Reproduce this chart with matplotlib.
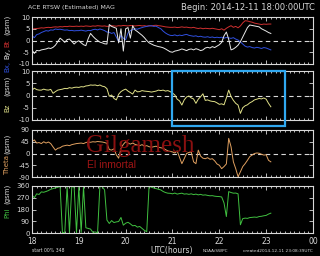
import numpy as np
import matplotlib
matplotlib.use("Agg")
import matplotlib.pyplot as plt
from matplotlib.patches import Rectangle

# time grid, hours UTC (every 3 min)
hours = np.round(np.arange(18.0, 23.101, 0.05), 2)

bt = [4.9, 5.0, 5.1, 5.2, 5.4, 5.3, 5.5, 5.6, 5.5, 5.7, 5.8, 5.7, 5.9, 5.8, 6.0, 5.9, 6.1, 6.0, 6.0, 6.1,
      6.0, 6.1, 6.0, 6.2, 6.1, 6.0, 6.2, 6.1, 6.3, 6.2, 6.1, 6.2, 6.0, 6.1, 6.3, 6.2, 6.1, 6.3, 6.2, 6.4,
      6.3, 6.2, 6.4, 6.3, 6.2, 6.3, 6.4, 6.2, 6.3, 6.1, 6.3, 6.2, 6.4, 6.5, 6.3, 6.2, 6.0, 5.8, 5.7, 5.6,
      5.6, 5.7, 5.5, 5.6, 5.8, 5.6, 5.7, 5.5, 5.4, 5.6, 5.3, 5.1, 5.3, 5.0, 5.2, 5.1, 5.0, 5.2, 5.0, 4.8,
      4.6, 5.0, 4.4, 5.2, 5.8, 6.3, 5.6, 6.0, 5.4, 6.2, 7.5, 8.4, 8.3, 8.0, 7.8, 7.4, 7.2, 7.0, 6.8, 7.0,
      6.9, 7.0, 7.0]

bx = [2.0, 1.2, 2.5, 2.8, 3.4, 3.8, 4.2, 4.0, 4.5, 4.4, 4.9, 4.7, 4.8, 4.6, 4.4, 4.5, 4.2, 4.3, 4.1, 4.2,
      4.2, 4.4, 4.2, 4.0, 4.3, 4.2, 4.6, 4.8, 4.5, 4.9, 4.6, 4.2, 3.6, 3.5, 3.0, 3.4, 1.5, -0.5, 2.2, 1.0,
      0.3, 3.2, 4.2, 4.6, 5.0, 4.8, 5.2, 5.5, 5.8, 6.0, 6.2, 6.3, 6.0, 6.1, 5.5, 5.0, 4.0, 3.2, 2.6, 2.2,
      2.1, 2.4, 2.0, 2.3, 2.1, 2.4, 2.6, 2.2, 2.0, 1.8, 2.0, 1.6, 1.8, 1.5, 1.4, 1.6, 1.3, 1.5, 1.2, 1.4,
      1.2, 1.4, 1.0, 1.3, 1.1, 0.9, 1.2, 0.6, 0.2, -0.6, -1.5, -2.4, -2.8, -2.6, -3.0, -3.2, -2.9, -3.1, -3.4, -3.0,
      -3.2, -3.6, -4.0]

by = [-4.0, -5.5, -4.2, -4.4, -4.0, -3.8, -3.6, -3.2, -3.4, -2.9, -2.0, -0.5, 1.0, 0.2, -0.8, 0.4, 0.6, -0.4, -1.5, -0.6,
      -0.1, -1.0, -1.8, -2.2, 0.8, 3.0, 1.8, 0.8, 0.0, -0.7, -1.0, -1.4, -1.5, 6.8, 6.0, 5.6, 5.2, -1.0, 5.0, -4.5,
      5.0, 5.5, 1.0, 6.3, 4.5, 3.8, 3.0, 2.2, 1.2, 0.0, -1.0, -1.5, -2.0, -2.3, -2.6, -2.8, -3.1, -3.6, -4.2, -4.8,
      -5.0, -4.5, -4.3, -4.0, -3.6, -3.9, -4.3, -3.8, -3.6, -4.0, -3.5, -3.8, -4.3, -4.0, -3.2, -2.9, -3.2, -2.6, -3.0, -2.4,
      -1.8, -0.8, 2.0, 3.6, 0.5, -4.0, -3.6, -2.9, -2.0, -0.5, 1.5, 3.5, 5.5, 6.6, 6.4, 6.2, 6.0, 5.8, 5.0, 4.5,
      4.0, 3.4, 3.0]

bz = [2.2, 3.0, 2.4, 2.2, 2.2, 2.6, 2.3, 2.2, 2.5, 0.9, 1.6, 2.2, 2.4, 2.6, 2.9, 2.8, 3.2, 3.0, 3.3, 3.4,
      3.3, 3.6, 3.5, 3.9, 4.0, 4.3, 4.2, 4.3, 4.0, 4.3, 3.8, 3.6, 2.8, -0.3, 0.2, -1.2, -1.8, 0.5, 1.6, 2.2,
      2.6, 1.8, 1.2, 0.6, 2.2, 1.5, 1.6, 2.0, 1.8, 1.7, 1.6, 1.4, 1.6, 1.8, 2.2, 2.0, 2.2, 1.8, 2.0, 1.6,
      1.0, 0.2, -1.5, -2.2, -3.9, -1.8, -0.6, -0.2, -1.0, -1.4, -3.2, -1.5, -0.5, 0.7, -2.0, -1.8, -2.2, -2.4, -2.5, -3.0,
      -3.6, -3.4, -3.8, -1.0, 2.2, -0.4, -2.0, -3.2, -3.9, -7.3, -5.0, -4.2, -3.8, -3.0, -2.5, -1.8, -1.5, -1.2, -1.4, -1.0,
      -1.5, -3.2, -4.6]

theta = [45, 52, 40, 42, 38, 45, 40, 44, 38, 25, 13, 20, 22, 28, 30, 32, 30, 34, 36, 38,
         39, 40, 38, 42, 44, 43, 45, 44, 46, 45, 44, 42, 39, 15, 13, 18, -5, -18, 20, 35,
         45, 40, 36, 40, 35, 32, 30, 34, 28, 30, 26, 24, 26, 28, 24, 22, 20, 15, 10, 8,
         6, 2, 10, -15, -39, -20, 0, 4, 6, -32, -39, 13, -10, -18, -20, -16, -22, -20, -28, -40,
         -45, -58, -50, -40, 58, 26, -32, -58, -89, -70, -50, -39, -26, -12, -6, 0, 2, 1, -3, -6,
         -5, -26, -32]

phi = [290, 270, 300, 295, 315, 312, 318, 325, 335, 340, 345, 350, 358, 2, 5, 355, 3, 357, 350, 2,
       358, 4, 355, 40, 35, 30, 5, 8, 2, 360, 355, 330, 99, 73, 95, 80, 85, 88, 119, 60,
       75, 82, 70, 55, 58, 45, 50, 35, 20, 10, 360, 350, 345, 340, 335, 330, 318, 310, 305, 304,
       300, 306, 298, 302, 305, 298, 300, 296, 300, 294, 298, 292, 296, 290, 292, 288, 285, 286, 282, 280,
       279, 276, 230, 126, 317, 310, 305, 306, 300, 63, 110, 114, 112, 118, 120, 122, 120, 126, 128, 132,
       135, 145, 152]

hour_ticks = [18, 19, 20, 21, 22, 23, 24]
hour_labels = ['18', '19', '20', '21', '22', '23', '00']

FG = '#d8d8d8'
C_BX, C_BY, C_BT = '#3050e0', '#e8e8e8', '#d03030'
C_BZ, C_TH, C_PHI = '#e0e088', '#e0a060', '#40c040'

fig = plt.figure(figsize=(3.2, 2.56), dpi=100, facecolor='black')

def px_axes(top, bottom):
    # pixel rows -> figure axes
    return fig.add_axes([32 / 320, 1 - bottom / 256, 281 / 320, (bottom - top) / 256])

def style(ax, lim, ticks, zero_line=True):
    ax.set_facecolor('black')
    ax.set_xlim(18, 24)
    ax.set_ylim(lim)
    ax.set_yticks(ticks)
    ax.set_yticklabels([str(t) for t in ticks])
    ax.set_xticks(hour_ticks)
    ax.set_xticks(np.arange(18, 24.01, 0.1), minor=True)
    ax.tick_params(axis='both', which='both', direction='in', colors=FG, labelsize=5,
                   top=True, right=True, width=0.6, pad=1.5)
    ax.tick_params(axis='y', which='major', length=3)
    ax.tick_params(axis='x', which='major', length=3)
    ax.tick_params(axis='x', which='minor', length=1.5)
    ax.tick_params(axis='x', labelbottom=False)
    for s in ax.spines.values():
        s.set_color(FG)
        s.set_linewidth(0.8)
    if zero_line:
        ax.axhline(0, color=FG, lw=0.8, ls=(0, (4, 3)))

ax1 = px_axes(17, 64)
style(ax1, (-10, 10), [10, 5, 0, -5, -10])
ax1.plot(hours, bt, color=C_BT, lw=0.7)
ax1.plot(hours, bx, color=C_BX, lw=0.7)
ax1.plot(hours, by, color=C_BY, lw=0.7)

ax2 = px_axes(71, 120)
style(ax2, (-10, 10), [10, 5, 0, -5, -10])
ax2.plot(hours, bz, color=C_BZ, lw=0.7)

ax3 = px_axes(130, 177)
style(ax3, (-90, 90), [90, 45, 0, -45, -90])
ax3.plot(hours, theta, color=C_TH, lw=0.7)

ax4 = px_axes(186, 233)
style(ax4, (0, 360), [360, 270, 180, 90, 0], zero_line=False)
ax4.plot(hours, phi, color=C_PHI, lw=0.7)
ax4.set_xticklabels(hour_labels)
ax4.tick_params(axis='x', labelbottom=True, labelsize=5.5, pad=3)

def ftext(x, y, s, **kw):
    fig.text(x / 320, 1 - y / 256, s, **kw)

# y labels (rotated, coloured pieces)
rot = dict(rotation=90, ha='center', va='center', fontsize=5)
ftext(7, 66, 'Bx,', color=C_BX, **rot)
ftext(7, 53, 'By,', color=C_BY, **rot)
ftext(7, 43, 'Bt', color=C_BT, **rot)
ftext(7, 25, '(gsm)', color=FG, **rot)
ftext(7, 108, 'Bz', color=C_BZ, **rot)
ftext(7, 86, '(gsm)', color=FG, **rot)
ftext(7, 165, 'Theta', color=C_TH, **rot)
ftext(7, 144, '(gsm)', color=FG, **rot)
ftext(7, 213, 'Phi', color=C_PHI, **rot)
ftext(7, 194, '(gsm)', color=FG, **rot)

# header and footer
ftext(28, 8, 'ACE RTSW (Estimated) MAG', color=FG, fontsize=4.5, va='center')
ftext(315, 8, 'Begin: 2014-12-11 18:00:00UTC', color=FG, fontsize=6, va='center', ha='right')
ftext(32, 251, 'start 00% 348', color=FG, fontsize=3.3, va='center')
ftext(172, 251, 'UTC(hours)', color=FG, fontsize=5.5, va='center', ha='center')
ftext(203, 251, 'NOAA/SWPC', color=FG, fontsize=3.0, va='center')
ftext(313, 251, 'created2014-12-11 23:08:39UTC', color=FG, fontsize=3.1, va='center', ha='right')

# watermark
ftext(140, 146, 'Gilgamesh', color='#8a1010', fontsize=18, family='Liberation Serif',
      ha='center', va='center', zorder=10)
ftext(87, 165, 'El inmortal', color='#a01515', fontsize=7.5, family='Liberation Sans',
      va='center', zorder=10)

# highlight box
fig.patches.append(Rectangle((172 / 320, 1 - 126 / 256), 113 / 320, 55 / 256,
                             transform=fig.transFigure, fill=False,
                             edgecolor='#30a8f0', lw=1.6, zorder=20))

fig.savefig('out.png', dpi=100, facecolor='black')
